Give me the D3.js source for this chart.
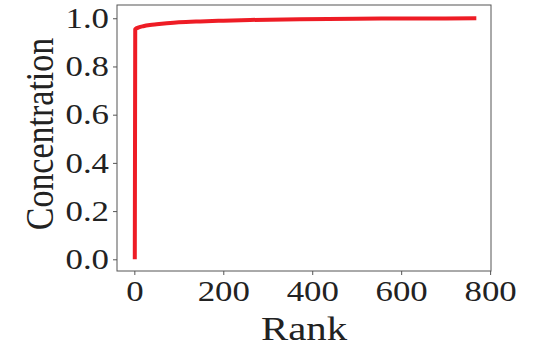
<!DOCTYPE html>
<html>
<head>
<meta charset="utf-8">
<script src="https://cdn.jsdelivr.net/npm/d3@7"></script>
<style>
  html, body { margin: 0; padding: 0; background: #fff; }
  svg { display: block; }
</style>
</head>
<body>
<svg id="chart" width="544" height="346"></svg>
<script>
// Data
const ranks = [1, 2, 10, 20, 35, 50, 73, 100, 148, 200, 260, 372, 500, 600, 700, 769];
const concentration = [0.0, 0.955, 0.962, 0.967, 0.972, 0.975, 0.979, 0.983, 0.987, 0.990, 0.993, 0.996, 0.998, 0.999, 0.9995, 1.0];
const xTicks = [0, 200, 400, 600, 800];
const yTicks = [0.0, 0.2, 0.4, 0.6, 0.8, 1.0];
const xLabel = "Rank";
const yLabel = "Concentration";

(function () {
const svg = d3.select("#chart");
const pL = 117, pR = 491, pT = 5, pB = 271;
const fontFamily = "'Liberation Serif', 'Times New Roman', serif";
const axisColor = "#555";
const textColor = "#222";
const sx = 1.2; // horizontal stretch seen in the reference text

const x = d3.scaleLinear().domain([-39, 802]).range([pL, pR]);
const y = d3.scaleLinear().domain([-0.0485, 1.055]).range([pB, pT]);

// frame
svg.append("rect")
  .attr("x", pL).attr("y", pT)
  .attr("width", pR - pL).attr("height", pB - pT)
  .attr("fill", "none").attr("stroke", axisColor).attr("stroke-width", 1);

// x axis
const xAxis = svg.append("g")
  .attr("transform", `translate(0,${pB})`)
  .call(d3.axisBottom(x).tickValues(xTicks).tickFormat(d3.format("d")).tickSize(4).tickPadding(5));
xAxis.select(".domain").remove();
xAxis.selectAll(".tick line").attr("stroke", axisColor);
xAxis.selectAll(".tick text")
  .attr("font-family", fontFamily).attr("font-size", 29).attr("fill", textColor)
  .attr("transform", `scale(${sx},1)`);

// y axis
const yAxis = svg.append("g")
  .attr("transform", `translate(${pL},0)`)
  .call(d3.axisLeft(y).tickValues(yTicks).tickFormat(d3.format(".1f")).tickSize(4).tickPadding(4));
yAxis.select(".domain").remove();
yAxis.selectAll(".tick line").attr("stroke", axisColor);
yAxis.selectAll(".tick text")
  .attr("font-family", fontFamily).attr("font-size", 29).attr("fill", textColor)
  .attr("x", -8 / sx)
  .attr("transform", `scale(${sx},1)`);

// line
const data = ranks.map((r, i) => ({r, c: concentration[i]}));
svg.append("path")
  .datum(data)
  .attr("fill", "none")
  .attr("stroke", "#ee1c25")
  .attr("stroke-width", 4)
  .attr("stroke-linejoin", "round")
  .attr("d", d3.line().x(d => x(d.r)).y(d => y(d.c)).curve(d3.curveMonotoneX));

// labels
svg.append("text")
  .attr("transform", `translate(${(pL + pR) / 2},340) scale(${sx},1)`)
  .attr("text-anchor", "middle")
  .attr("font-family", fontFamily).attr("font-size", 34).attr("fill", textColor)
  .text(xLabel);

svg.append("text")
  .attr("transform", `translate(53,${(pT + pB) / 2 - 4}) rotate(-90) scale(1,${sx})`)
  .attr("text-anchor", "middle")
  .attr("font-family", fontFamily).attr("font-size", 34).attr("fill", textColor)
  .text(yLabel);
})();
</script>
</body>
</html>
